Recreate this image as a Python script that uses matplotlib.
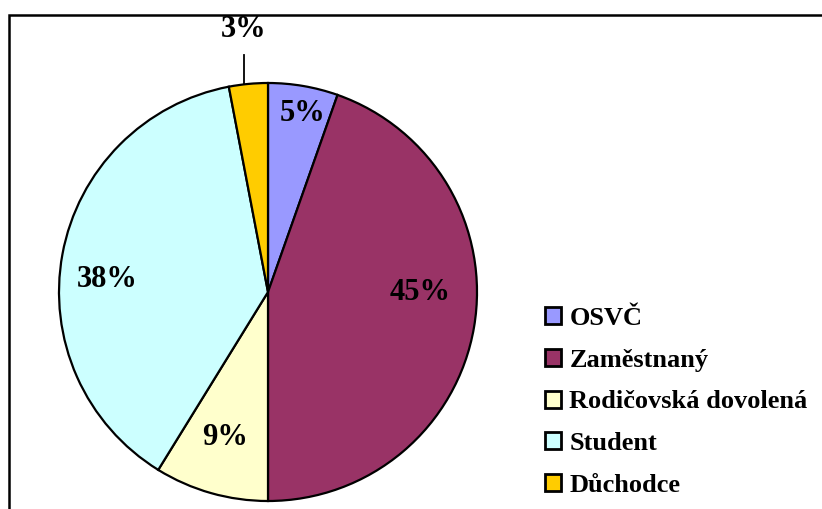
import matplotlib.pyplot as plt
import numpy as np

# podíly (v %)
categories = ['OSVČ', 'Zaměstnaný', 'Rodičovská dovolená', 'Student', 'Důchodce']
shares = [5.4, 44.6, 8.8, 38.2, 3.0]
colors = ['#9999FF', '#993366', '#FFFFCC', '#CCFFFF', '#FFCC00']

# umístění popisků (v násobcích poloměru od středu)
label_offsets = [(0.163, 0.856), (0.727, 0.0), (-0.206, -0.694), (-0.770, 0.062), (-0.115, 1.258)]

W, H = 822, 509
cx, cy, r = 268, H - 292, 209

plt.rcParams['font.family'] = ['Liberation Serif', 'DejaVu Serif']
plt.rcParams['font.weight'] = 'bold'

fig = plt.figure(figsize=(W / 100, H / 100), dpi=100)
ax = fig.add_axes([0, 0, 1, 1])

wedges, _ = ax.pie(shares, colors=colors, startangle=90, counterclock=False,
                   center=(cx, cy), radius=r,
                   wedgeprops=dict(edgecolor='black', linewidth=1.6))
ax.set_xlim(0, W)
ax.set_ylim(0, H)
ax.set_aspect('equal')
ax.axis('off')

for v, (dx, dy) in zip(shares, label_offsets):
    ax.text(cx + dx * r, cy + dy * r, f'{round(v)}%', ha='center', va='center',
            fontsize=22, fontweight='bold')

# vodicí čára k malému výseku
dx, dy = label_offsets[-1]
ax.plot([cx + dx * r, cx + dx * r], [cy + np.sqrt(1 - dx ** 2) * r, cy + 1.134 * r],
        color='black', linewidth=1.3)

# rámeček (jen vlevo a nahoře)
ax.plot([8.5, 8.5, W], [0, H - 15, H - 15], color='black', linewidth=1.8,
        clip_on=False, solid_joinstyle='miter')

leg = ax.legend(wedges, categories, loc='upper left', bbox_to_anchor=(545 / W, 1 - 307 / H),
                frameon=False, fontsize=19, handlelength=0.62, handleheight=0.62,
                handletextpad=0.3, labelspacing=0.71, borderaxespad=0, borderpad=0)
for t in leg.get_texts():
    t.set_fontweight('bold')
for h in leg.legend_handles:
    h.set_linewidth(2.0)

fig.savefig('out.png', dpi=100)
